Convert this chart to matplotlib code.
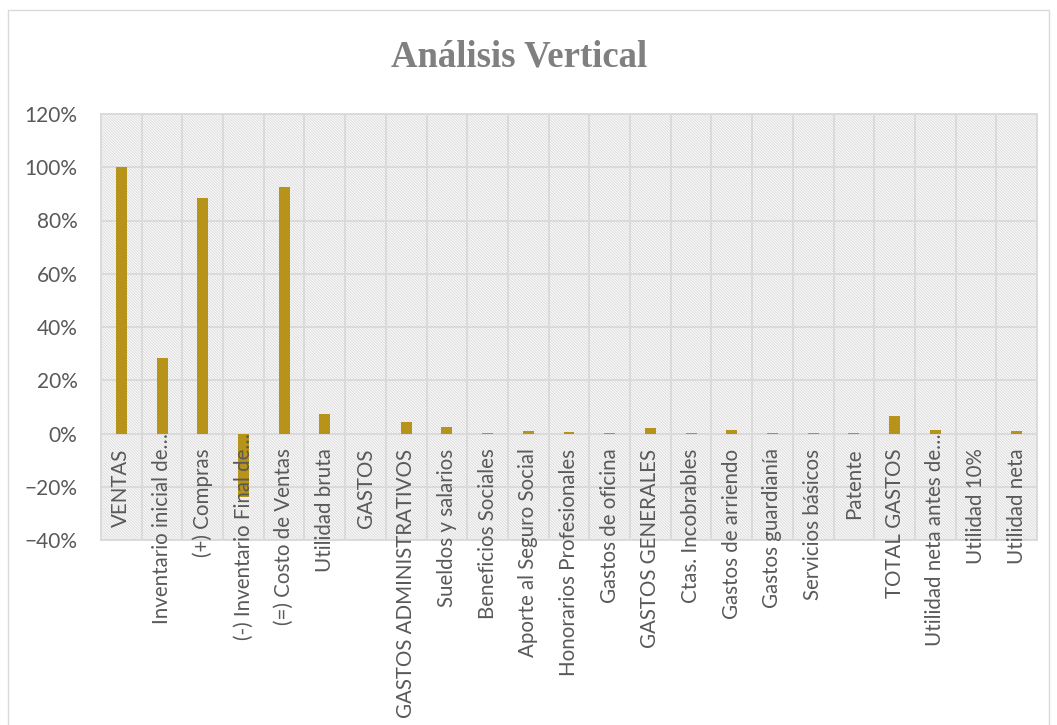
import matplotlib.pyplot as plt
import matplotlib.transforms as mtransforms
from matplotlib.patches import Rectangle
from matplotlib.ticker import PercentFormatter

plt.rcParams['font.family'] = ['Lato', 'DejaVu Sans']
plt.rcParams['hatch.linewidth'] = 0.8

categorias = [
    "VENTAS", "Inventario inicial de\u2026", "(+) Compras", "(-) Inventario Final de\u2026",
    "(=) Costo de Ventas", "Utilidad bruta", "GASTOS", "GASTOS ADMINISTRATIVOS",
    "Sueldos y salarios", "Beneficios Sociales", "Aporte al Seguro Social",
    "Honorarios Profesionales", "Gastos de oficina", "GASTOS GENERALES",
    "Ctas. Incobrables", "Gastos de arriendo", "Gastos guardianía",
    "Servicios básicos", "Patente", "TOTAL GASTOS", "Utilidad neta antes de\u2026",
    "Utilidad 10%", "Utilidad neta",
]
valores = [
    100.0, 28.2, 88.4, -23.8, 92.5, 7.5, 0.0, 4.4,
    2.3, 0.3, 1.1, 0.4, 0.1, 2.2,
    0.1, 1.3, 0.1, 0.3, 0.1, 6.7, 1.2,
    0.0, 1.0,
]

gris = '#d9d9d9'
texto = '#595959'

fig = plt.figure(figsize=(10.57, 7.25), dpi=100)
fig.patches.append(Rectangle((8/1057, -0.01), 1041/1057, 1 - 10/725 + 0.01,
                             transform=fig.transFigure, fill=False,
                             edgecolor=gris, lw=1.0))

ax = fig.add_axes([101/1057, 1 - 540/725, 936/1057, 426/725])

# hatched plot area
ax.add_patch(Rectangle((0, 0), 1, 1, transform=ax.transAxes, facecolor='white',
                       edgecolor='#dedede', lw=0, hatch='\\' * 12, zorder=0))

x = list(range(len(categorias)))
ax.bar(x, valores, width=0.27, color='#B8931A', zorder=3)

ax.set_xlim(-0.5, len(categorias) - 0.5)
ax.set_ylim(-40, 120)
ax.set_yticks(range(-40, 121, 20))
ax.yaxis.set_major_formatter(PercentFormatter(decimals=0))
ax.set_xticks([i + 0.5 for i in x[:-1]])
ax.set_xticklabels([])
ax.tick_params(axis='both', length=0)
ax.tick_params(axis='y', labelsize=15, labelcolor=texto, pad=17)
ax.grid(True, color=gris, lw=1.3, zorder=1)
ax.set_axisbelow(True)
for sp in ax.spines.values():
    sp.set_color(gris)
    sp.set_linewidth(1.3)

for i, lab in enumerate(categorias):
    dy = 0 if lab.endswith('\u2026') else -15
    off = mtransforms.offset_copy(ax.transData, fig=fig, x=0, y=dy, units='dots')
    ax.text(i, 0, lab, transform=off, rotation=90, ha='center', va='top',
            fontsize=14.8, color=texto, clip_on=False, zorder=4)

fig.text(519/1057, 1 - 57/725, "Análisis Vertical", ha='center', va='center',
         fontsize=26.5, fontweight='bold', color='#808080',
         family=['Liberation Serif', 'DejaVu Serif'])

fig.savefig('out.png', dpi=100)
